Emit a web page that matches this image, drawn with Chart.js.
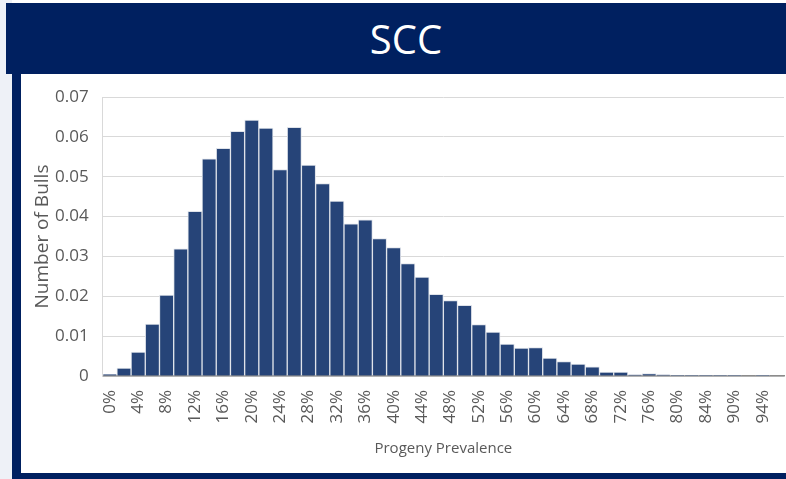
<!DOCTYPE html>
<html>
<head>
<meta charset="utf-8">
<script src="https://cdn.jsdelivr.net/npm/chart.js@4/dist/chart.umd.min.js"></script>
<style>
  html, body { margin:0; padding:0; width:786px; height:479px; overflow:hidden; background:#ffffff; font-family:"Open Sans", sans-serif; }
  #leftbg { position:absolute; left:0; top:0; width:12px; height:479px; background:#eef1f7; }
  #banner { position:absolute; left:6px; top:3px; width:780px; height:71px; background:#002060; color:#fff;
            font-family:"Open Sans", sans-serif; font-size:40px; line-height:71px; text-align:center; }
  #banner span { position:relative; left:10px; }
  #leftbar { position:absolute; left:12px; top:74px; width:9px; height:405px; background:#002060; }
  #bottombar { position:absolute; left:12px; top:473px; width:774px; height:6px; background:#002060; }
  #wrap { position:absolute; left:21px; top:75px; width:765px; height:398px; background:#fff; }
</style>
</head>
<body>
<div id="leftbg"></div>
<div id="banner"><span>SCC</span></div>
<div id="leftbar"></div>
<div id="bottombar"></div>
<div id="wrap"><canvas id="c" width="765" height="398"></canvas></div>
<script>
const categories = ["0%","2%","4%","6%","8%","10%","12%","14%","16%","18%","20%","22%","24%","26%","28%","30%","32%","34%","36%","38%","40%","42%","44%","46%","48%","50%","52%","54%","56%","58%","60%","62%","64%","66%","68%","70%","72%","74%","76%","78%","80%","82%","84%","86%","90%","92%","94%","96%"];
const values = [0.0004,0.0020,0.0060,0.0130,0.0203,0.0319,0.0413,0.0545,0.0571,0.0614,0.0642,0.0622,0.0518,0.0624,0.0529,0.0483,0.0439,0.0382,0.0392,0.0345,0.0322,0.0282,0.0248,0.0205,0.0189,0.0177,0.0129,0.0110,0.0080,0.0070,0.0071,0.0045,0.0036,0.0030,0.0023,0.0010,0.0010,0.0003,0.0006,0.0003,0.0001,0.0001,0.0001,0.0001,0.0001,0,0.0001,0];
const yTicks = [0,0.01,0.02,0.03,0.04,0.05,0.06,0.07];
const chartTitle = "SCC";
const xTitle = "Progeny Prevalence";
const yTitle = "Number of Bulls";

const font = {family:"'Open Sans', sans-serif", size:17};
new Chart(document.getElementById('c'), {
  type:'bar',
  data:{ labels:categories, datasets:[{ data:values, backgroundColor:'#264478', borderColor:'#dfe3ea', borderWidth:1, borderSkipped:'bottom', categoryPercentage:1, barPercentage:1 }]},
  options:{
    responsive:false, animation:false,
    layout:{ autoPadding:false, padding:{ left:6, top:22, right:2, bottom:10 } },
    plugins:{ legend:{display:false}, tooltip:{enabled:false} },
    scales:{
      x:{
        grid:{ display:false, drawTicks:false },
        border:{ display:true, color:'#8c8c8c', width:1.5 },
        ticks:{ color:'#595959', font:font, maxRotation:90, minRotation:90, autoSkip:false, padding:14,
          callback:function(v,i){ return i % 2 === 0 ? categories[i] : ''; } },
        title:{ display:true, text:xTitle, color:'#595959', font:{family:"'Open Sans', sans-serif", size:15}, padding:{top:4,bottom:5} },
        afterFit:function(s){ s.height = 87; s.paddingLeft = 0; s.paddingRight = 0; s.paddingTop = 0; s.paddingBottom = 0; }
      },
      y:{
        min:0, max:0.07,
        afterBuildTicks:function(s){ s.ticks = yTicks.map(v=>({value:v})); },
        grid:{ color:'#d9d9d9', lineWidth:1, drawTicks:false },
        border:{ display:true, color:'#d9d9d9' },
        ticks:{ color:'#595959', font:font, padding:14,
          callback:function(v){ return v === 0 ? '0' : v.toFixed(2); } },
        title:{ display:true, text:yTitle, color:'#595959', font:{family:"'Open Sans', sans-serif", size:19}, padding:{top:4,bottom:4} },
        afterFit:function(s){ s.width = 75.7; s.paddingLeft = 0; s.paddingRight = 0; s.paddingTop = 0; s.paddingBottom = 0; }
      }
    }
  }
});
</script>
</body>
</html>
